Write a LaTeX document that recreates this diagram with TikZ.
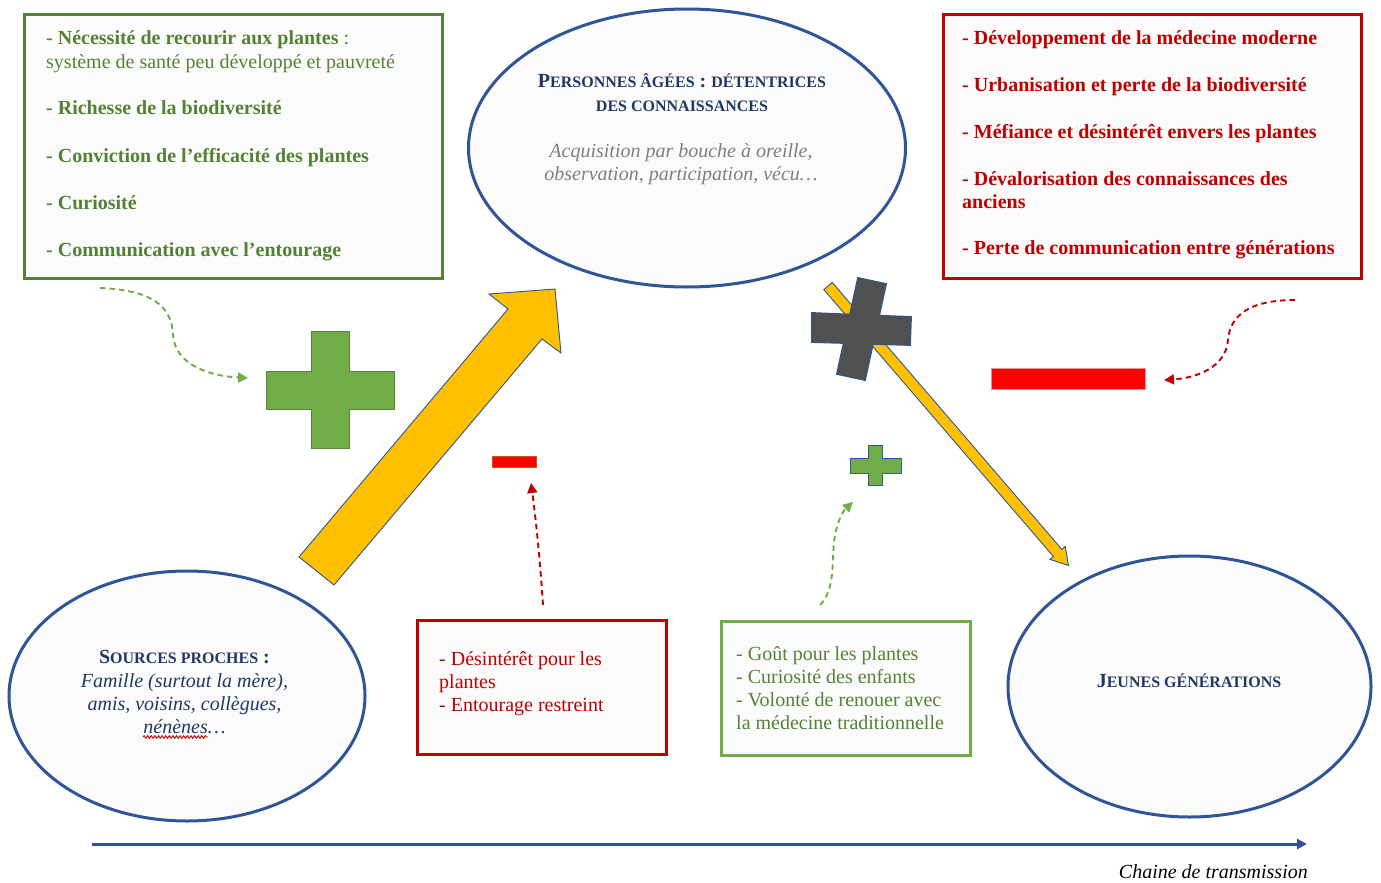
\documentclass[tikz,border=0pt]{standalone}
\usepackage{fontspec}
\setmainfont{Liberation Serif}
\usetikzlibrary{shapes.geometric,arrows.meta,decorations.pathmorphing}
\definecolor{gdark}{HTML}{538135}
\definecolor{gtext}{HTML}{548235}
\definecolor{glight}{HTML}{70AD47}
\definecolor{rdark}{HTML}{C00000}
\definecolor{bblue}{HTML}{2F5597}
\definecolor{navy}{HTML}{203864}
\definecolor{grtxt}{HTML}{7F7F7F}
\definecolor{yel}{HTML}{FFC000}
\definecolor{xgray}{HTML}{505050}
\definecolor{bfill}{HTML}{FBFBFB}
\definecolor{pred}{HTML}{FF0000}
\newcommand\fs{\fontsize{20}{23}\selectfont}
\newcommand\smc[1]{{\fontsize{16}{19}\selectfont #1}}
\begin{document}
\begin{tikzpicture}[x=1pt,y=-1pt,
  frame/.style={draw, line width=3pt, fill=bfill, rectangle, inner sep=0pt, anchor=north west},
  oval/.style={ellipse, draw=bblue, line width=3pt, fill=bfill, inner sep=0pt},
  lt/.style={anchor=base west, inner sep=0pt, font=\fs},
  ct/.style={anchor=base, inner sep=0pt, font=\fs},
  dashlink/.style={line width=1.9pt, dash pattern=on 5.5pt off 4pt, -{Triangle[length=10pt,width=10pt]}},
  bigarrow/.style={fill=yel, draw=bblue, line width=0.9pt, line join=miter},
]
\useasboundingbox[fill=white] (0,0) rectangle (1381,883);

% ---- boxes
\node[frame, draw=gdark, minimum width=418pt, minimum height=264pt] (G) at (23,13) {};
\node[frame, draw=rdark, minimum width=418pt, minimum height=264pt] (R) at (942,13) {};
\node[frame, draw=rdark, minimum width=249pt, minimum height=134pt] (RB) at (416,619) {};
\node[frame, draw=glight, minimum width=249pt, minimum height=134pt] (GB) at (720,620) {};

% ---- ellipses
\node[oval, minimum width=437pt, minimum height=278pt] (PA) at (687,148) {};
\node[oval, minimum width=356pt, minimum height=250pt] (SP) at (187,696) {};
\node[oval, minimum width=363pt, minimum height=261pt] (JG) at (1189.5,686.5) {};

% ---- green box text
\begin{scope}[every node/.style={lt, text=gtext}]
\node (g1) at (46,45) {\textbf{- Nécessité de recourir aux plantes} :};
\node (g2) at (46,68) {système de santé peu développé et pauvreté};
\node (g3) at (46,114) {\textbf{- Richesse de la biodiversité}};
\node (g4) at (46,162) {\textbf{- Conviction de l’efficacité des plantes}};
\node (g5) at (46,209) {\textbf{- Curiosité}};
\node (g6) at (46,256) {\textbf{- Communication avec l’entourage}};
\end{scope}

% ---- red box text
\begin{scope}[every node/.style={lt, text=rdark, font=\fs\bfseries}]
\node (r1) at (962,45) {- Développement de la médecine moderne};
\node (r2) at (962,92) {- Urbanisation et perte de la biodiversité};
\node (r3) at (962,138) {- Méfiance et désintérêt envers les plantes};
\node (r4) at (962,185) {- Dévalorisation des connaissances des};
\node (r5) at (962,208) {anciens};
\node (r6) at (962,254) {- Perte de communication entre générations};
\end{scope}

% ---- ellipse texts
\node[ct, text=navy, font=\fs\bfseries] (pa1) at (682,87) {P\smc{ERSONNES ÂGÉES} : \smc{DÉTENTRICES}};
\node[ct, text=navy, font=\fs\bfseries] (pa2) at (682,111) {\smc{DES CONNAISSANCES}};
\node[ct, text=grtxt, font=\fs\itshape] (pa3) at (681,157) {Acquisition par bouche à oreille,};
\node[ct, text=grtxt, font=\fs\itshape] (pa4) at (681,180) {observation, participation, vécu…};

\node[ct, text=navy, font=\fs\bfseries] (sp1) at (184.5,663) {S\smc{OURCES PROCHES} :};
\node[ct, text=navy, font=\fs\itshape] (sp2) at (184.5,687) {Famille (surtout la mère),};
\node[ct, text=navy, font=\fs\itshape] (sp3) at (184.5,710) {amis, voisins, collègues,};
\node[ct, text=navy, font=\fs\itshape] (sp4) at (184.5,733) {nénènes…};
\draw[rdark, line width=0.9pt, decorate, decoration={snake, amplitude=1.3pt, segment length=3.6pt}] (143,737) -- (208,737);

\node[ct, text=navy, font=\fs\bfseries] (jg1) at (1189,687) {J\smc{EUNES GÉNÉRATIONS}};

% ---- bottom boxes text
\begin{scope}[every node/.style={lt, text=rdark}]
\node (rb1) at (439,665) {- Désintérêt pour les};
\node (rb2) at (439,688) {plantes};
\node (rb3) at (439,711) {- Entourage restreint};
\end{scope}
\begin{scope}[every node/.style={lt, text=gtext}]
\node (gb1) at (736,660) {- Goût pour les plantes};
\node (gb2) at (736,683) {- Curiosité des enfants};
\node (gb3) at (736,706) {- Volonté de renouer avec};
\node (gb4) at (736,729) {la médecine traditionnelle};
\end{scope}

% ---- big yellow arrow (sources -> personnes agees)
\draw[bigarrow] (299,557) -- (508,309) -- (489,294) -- (555,289) -- (561,353) -- (542,339) -- (334,585) -- cycle;

% ---- thin yellow arrow (personnes agees -> jeunes)
\draw[bigarrow] (832.2,282.4) -- (1061.8,549.3) -- (1065.2,546.4) -- (1068.5,565.5) -- (1050,559.4) -- (1053.4,556.5) -- (823.8,289.6) -- cycle;

% ---- dark cross
\draw[bblue, line width=1.8pt, line join=miter] (858,278) -- (886,284) -- (865,380) -- (837,374) -- cycle (812,313) -- (911,317) -- (910,345) -- (812,342) -- cycle;
\fill[xgray] (858,278) -- (886,284) -- (865,380) -- (837,374) -- cycle (812,313) -- (911,317) -- (910,345) -- (812,342) -- cycle;

% ---- big green plus
\draw[gdark, line width=1.8pt] (312,332) rectangle (349,448) (267,372) rectangle (394,409);
\fill[glight] (312,332) rectangle (349,448) (267,372) rectangle (394,409);

% ---- small green plus
\draw[bblue, line width=1.6pt] (869,446) rectangle (882,485) (851,459) rectangle (901,473);
\fill[glight] (869,446) rectangle (882,485) (851,459) rectangle (901,473);

% ---- red minus signs
\draw[fill=pred, draw={rgb,255:red,197;green,90;blue,17}, line width=0.9pt] (492,456) rectangle (536,467);
\draw[fill=pred, draw={rgb,255:red,240;green,140;blue,140}, line width=0.9pt] (991,368) rectangle (1145,389);

% ---- dashed influence arrows
\coordinate (gs) at (100,288); \coordinate (ge) at (248,378);
\draw[dashlink, glight] (gs) .. controls (150,290) and (172,305) .. (173,335) .. controls (175,365) and (210,376) .. (ge);
\coordinate (rs) at (1295,300); \coordinate (re) at (1164,380);
\draw[dashlink, rdark] (rs) .. controls (1250,300) and (1230,315) .. (1228,340) .. controls (1226,368) and (1195,378) .. (re);
\coordinate (ms) at (543,605); \coordinate (me) at (531,483);
\draw[dashlink, rdark] (ms) .. controls (540,560) and (536,520) .. (me);
\coordinate (ps) at (820,605); \coordinate (pe) at (853,502);
\draw[dashlink, glight] (ps) .. controls (835,590) and (832,562) .. (834,542) .. controls (836,525) and (842,512) .. (pe);

% ---- transmission axis
\coordinate (ax1) at (92,844); \coordinate (ax2) at (1307,844);
\draw[bblue, line width=3pt, -{Triangle[length=10pt,width=10pt]}] (ax1) -- (ax2);
\node[anchor=base east, inner sep=0pt, font=\fs\itshape] (chain) at (1308,878) {Chaine de transmission};
\end{tikzpicture}
\end{document}
